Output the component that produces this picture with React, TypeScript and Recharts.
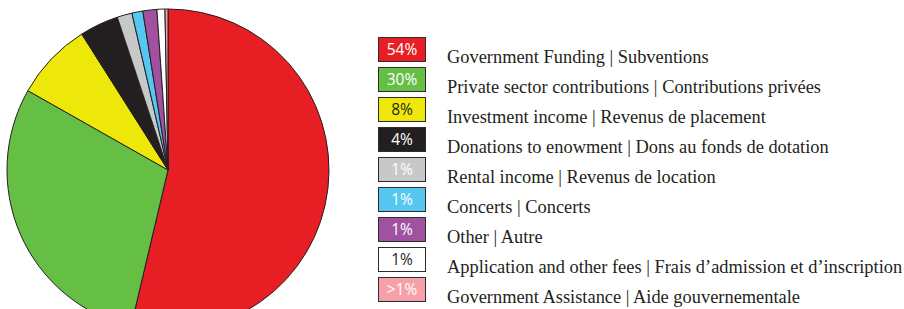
import { Legend, Pie, PieChart, Cell } from 'recharts';

// revenue sources, clockwise from 12 o'clock
const sources = [
  'Government Funding | Subventions',
  'Private sector contributions | Contributions privées',
  'Investment income | Revenus de placement',
  'Donations to enowment | Dons au fonds de dotation',
  'Rental income | Revenus de location',
  'Concerts | Concerts',
  'Other | Autre',
  'Application and other fees | Frais d’admission et d’inscription',
  'Government Assistance | Aide gouvernementale',
];

// share of the total (%)
const shares = [53.7, 29.5, 7.8, 3.9, 1.5, 1.1, 1.4, 0.8, 0.3];

// rounded tags printed in the legend boxes
const tags = ['54%', '30%', '8%', '4%', '1%', '1%', '1%', '1%', '>1%'];

const fills = ['#e81e25', '#66bf45', '#eee80a', '#231f20', '#c7c8ca', '#56c7f1', '#a052a0', '#ffffff', '#f6a0a9'];
const tagColors = ['#fff', '#fff', '#231f20', '#fff', '#fff', '#fff', '#fff', '#231f20', '#fff'];

const data = sources.map((name, i) => ({ name, value: shares[i], tag: tags[i] }));

const serif = '"Liberation Serif", "Times New Roman", serif';

function SourceLegend() {
  return (
    <div style={{ position: 'relative', width: 526, height: 280 }}>
      {data.map((d, i) => (
        <div key={d.name} style={{ position: 'absolute', left: 0, top: i * 30.05, height: 30 }}>
          <div
            style={{
              position: 'absolute',
              left: 0,
              top: 0,
              width: 46,
              height: 23,
              border: '1.5px solid #2e2a2b',
              background: fills[i],
              color: tagColors[i],
              fontFamily: '"Open Sans", "Liberation Sans", sans-serif',
              fontSize: 15.5,
              lineHeight: '23px',
              textAlign: 'center',
            }}
          >
            {d.tag}
          </div>
          <span
            style={{
              position: 'absolute',
              left: 69,
              top: 7,
              height: 26,
              lineHeight: '26px',
              whiteSpace: 'nowrap',
              fontFamily: serif,
              fontSize: 18.4,
              color: '#231f20',
            }}
          >
            {d.name}
          </span>
        </div>
      ))}
    </div>
  );
}

export default function App() {
  return (
    <div style={{ position: 'absolute', left: 0, top: 0, width: 904, height: 309, background: '#fff', fontFamily: serif }}>
      <PieChart width={904} height={309} margin={{ top: 0, right: 0, bottom: 0, left: 0 }}>
        <Pie
          data={data}
          dataKey="value"
          nameKey="name"
          cx={168}
          cy={170}
          outerRadius={161}
          startAngle={90}
          endAngle={-270}
          stroke="#231f20"
          strokeWidth={1}
          isAnimationActive={false}
        >
          {data.map((d, i) => (
            <Cell key={d.name} fill={fills[i]} />
          ))}
        </Pie>
        <Legend
          layout="vertical"
          content={() => <SourceLegend />}
          wrapperStyle={{ position: 'absolute', left: 378, top: 37, width: 526 }}
        />
      </PieChart>
    </div>
  );
}
